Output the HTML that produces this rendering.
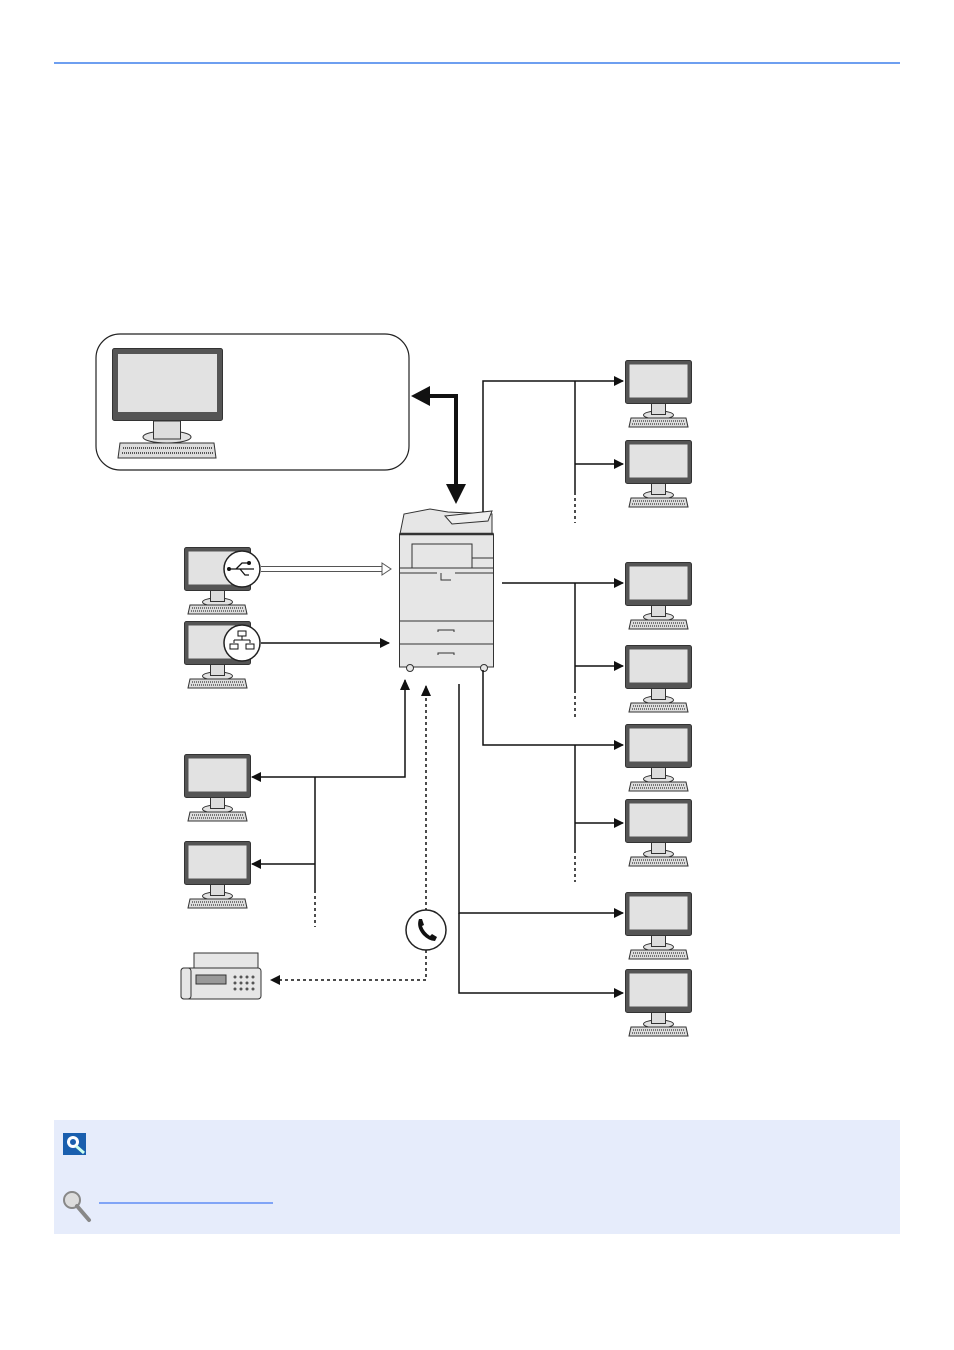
<!DOCTYPE html>
<html><head><meta charset="utf-8"><style>body{margin:0;background:#fff}svg{display:block}</style></head>
<body>
<svg width="954" height="1350" viewBox="0 0 954 1350" xmlns="http://www.w3.org/2000/svg">
<defs>
<symbol id="mon" viewBox="0 0 68 70" overflow="visible">
<rect x="0.5" y="0.5" width="66" height="43" rx="2" fill="#555" stroke="#333"/>
<rect x="4.5" y="4.5" width="58" height="33" fill="#e2e2e2"/>
<ellipse cx="33.5" cy="55" rx="15" ry="4" fill="#e2e2e2" stroke="#333"/>
<rect x="26.5" y="43.5" width="14" height="11" fill="#ddd" stroke="#333"/>
<path d="M6 58 H61 L63 67 H4 Z" fill="#ddd" stroke="#333"/>
<path d="M8 61 H59 M7 64 H60" stroke="#555" stroke-width="1.5" stroke-dasharray="1 1"/>
</symbol>
<marker id="ar" viewBox="0 0 10 10" refX="9" refY="5" markerWidth="10" markerHeight="10" markerUnits="userSpaceOnUse" orient="auto"><path d="M0 0 L10 5 L0 10 Z" fill="#111"/></marker>
</defs>
<rect x="54" y="62" width="846" height="2" fill="#6e9ff0"/>
<!-- big box -->
<rect x="96" y="334" width="313" height="136" rx="24" fill="#fff" stroke="#222" stroke-width="1.2"/>
<g transform="translate(112,348)">
<rect x="0.5" y="0.5" width="110" height="72" rx="2" fill="#555" stroke="#333"/>
<rect x="6" y="6" width="99" height="58" fill="#e2e2e2"/>
<ellipse cx="55" cy="89" rx="24" ry="6" fill="#e2e2e2" stroke="#333"/>
<rect x="41.5" y="73" width="27" height="18" fill="#ddd" stroke="#333"/>
<path d="M8 95 H102 L104 110 H6 Z" fill="#ddd" stroke="#333"/>
<path d="M11 100 H100 M10 105 H101" stroke="#555" stroke-width="2" stroke-dasharray="1 1"/>
</g>
<!-- thick double arrow -->
<path d="M428 396 H456 V488" fill="none" stroke="#111" stroke-width="4"/>
<path d="M411 396 L430 386 L430 406 Z" fill="#111"/>
<path d="M446 484 L456 504 L466 484 Z" fill="#111"/>
<!-- printer -->
<g stroke="#333" fill="#e6e6e6" stroke-width="1">
<path d="M400 534 L404 514 L430 509 L448 512 L492 514 L492 534 Z"/>
<path d="M445 516 L492 511 L488 521 L452 524 Z" fill="#eee"/>
<rect x="399.5" y="534" width="94" height="133"/>
<line x1="399.5" y1="534" x2="493.5" y2="534" stroke-width="2.5"/>
<rect x="412" y="544" width="60" height="24"/>
<line x1="399.5" y1="568" x2="493.5" y2="568"/>
<line x1="472" y1="558" x2="493" y2="558"/>
<line x1="399.5" y1="621" x2="493.5" y2="621"/>
<line x1="399.5" y1="644" x2="493.5" y2="644"/>
<path d="M438 632 V630 H454 V632 M438 655 V653 H454 V655" fill="none"/>
<path d="M441 573 V580 H451" fill="none"/>
<path d="M400 573 H437 M455 573 H493" fill="none"/>
<circle cx="410" cy="668" r="3.5"/><circle cx="484" cy="668" r="3.5"/>
</g>
<!-- right monitors -->
<use href="#mon" x="625" y="360" width="68" height="70"/>
<use href="#mon" x="625" y="440" width="68" height="70"/>
<use href="#mon" x="625" y="562" width="68" height="70"/>
<use href="#mon" x="625" y="645" width="68" height="70"/>
<use href="#mon" x="625" y="724" width="68" height="70"/>
<use href="#mon" x="625" y="799" width="68" height="70"/>
<use href="#mon" x="625" y="892" width="68" height="70"/>
<use href="#mon" x="625" y="969" width="68" height="70"/>
<!-- left monitors -->
<use href="#mon" x="184" y="547" width="68" height="70"/>
<use href="#mon" x="184" y="621" width="68" height="70"/>
<use href="#mon" x="184" y="754" width="68" height="70"/>
<use href="#mon" x="184" y="841" width="68" height="70"/>
<!-- usb / net badges -->
<circle cx="242" cy="569" r="18" fill="#fff" stroke="#222" stroke-width="1.5"/>
<path d="M229 569 H254 M236 569 L242 563 H248 M240 569 L245 575 H249" stroke="#111" fill="none" stroke-width="1.3"/>
<circle cx="229" cy="569" r="2" fill="#111"/><circle cx="249" cy="563" r="2" fill="#111"/>
<circle cx="242" cy="643" r="18" fill="#fff" stroke="#222" stroke-width="1.5"/>
<path d="M238 631 h8 v5 h-8z M242 636 v4 M234 640 h16 M234 640 v3 M250 640 v3 M230 644 h8 v5 h-8z M246 644 h8 v5 h-8z" stroke="#111" fill="none" stroke-width="1"/>
<!-- hollow usb arrow -->
<path d="M261 566.5 H382 M261 571.5 H382" stroke="#555" stroke-width="1"/>
<path d="M382 563 L391 569 L382 575 Z" fill="#fff" stroke="#555"/>
<line x1="261" y1="643" x2="389" y2="643" stroke="#111" stroke-width="1.5" marker-end="url(#ar)"/>
<!-- right connectors -->
<g stroke="#111" stroke-width="1.5" fill="none">
<path d="M483 512 V381 H623" marker-end="url(#ar)"/>
<path d="M575 464 H623" marker-end="url(#ar)"/>
<line x1="575" y1="381" x2="575" y2="492"/>
<line x1="575" y1="492" x2="575" y2="523" stroke-dasharray="3 3"/>
<path d="M502 583 H623" marker-end="url(#ar)"/>
<path d="M575 666 H623" marker-end="url(#ar)"/>
<line x1="575" y1="583" x2="575" y2="690"/>
<line x1="575" y1="690" x2="575" y2="720" stroke-dasharray="3 3"/>
<path d="M483 670 V745 H623" marker-end="url(#ar)"/>
<path d="M575 823 H623" marker-end="url(#ar)"/>
<line x1="575" y1="745" x2="575" y2="850"/>
<line x1="575" y1="850" x2="575" y2="882" stroke-dasharray="3 3"/>
<path d="M459 684 V913 H623" marker-end="url(#ar)"/>
<path d="M459 913 V993 H623" marker-end="url(#ar)"/>
<!-- left lower -->
<path d="M405 680 V777 H252" marker-end="url(#ar)"/>
<path d="M315 864 H252" marker-end="url(#ar)"/>
<line x1="315" y1="777" x2="315" y2="890"/>
<line x1="315" y1="890" x2="315" y2="927" stroke-dasharray="3 3"/>
<path d="M426 686 V980 H271" stroke-dasharray="3 3" marker-end="url(#ar)"/>
</g>
<path d="M400 690 L405 679 L410 690 Z M421 696 L426 685 L431 696 Z" fill="#111"/>
<circle cx="426" cy="930" r="20" fill="#fff" stroke="#222" stroke-width="1.5"/>
<path d="M419 919 q-3 8 4 16 q6 6 12 6 l2 -4 -5 -3 -2 2 q-6 -4 -8 -10 l2 -1 -2 -6z" fill="#111"/>
<!-- fax -->
<g stroke="#333" fill="#e6e6e6">
<rect x="194" y="953" width="64" height="20"/>
<rect x="181" y="968" width="80" height="31" rx="3"/>
<rect x="181" y="968" width="10" height="31" rx="3"/>
<rect x="196" y="975" width="30" height="9" fill="#999"/>
</g>
<g fill="#555"><circle cx="235" cy="977" r="1.5"/><circle cx="241" cy="977" r="1.5"/><circle cx="247" cy="977" r="1.5"/><circle cx="253" cy="977" r="1.5"/><circle cx="235" cy="983" r="1.5"/><circle cx="241" cy="983" r="1.5"/><circle cx="247" cy="983" r="1.5"/><circle cx="253" cy="983" r="1.5"/><circle cx="235" cy="989" r="1.5"/><circle cx="241" cy="989" r="1.5"/><circle cx="247" cy="989" r="1.5"/><circle cx="253" cy="989" r="1.5"/></g>
<!-- note box -->
<rect x="54" y="1120" width="846" height="114" fill="#e6ecfb"/>
<rect x="63" y="1133" width="23" height="22" fill="#1a5fae"/>
<circle cx="73" cy="1142" r="6" fill="#fff"/><circle cx="73" cy="1142" r="3" fill="#1a5fae"/>
<path d="M76 1146 L84 1153" stroke="#cfe" stroke-width="3"/>
<circle cx="72" cy="1200" r="8" fill="#ddd" stroke="#888" stroke-width="2"/>
<path d="M77 1206 L89 1220" stroke="#888" stroke-width="4" stroke-linecap="round"/>
<line x1="99" y1="1203" x2="273" y2="1203" stroke="#1a5cf0" stroke-width="1"/>
</svg>
</body></html>
